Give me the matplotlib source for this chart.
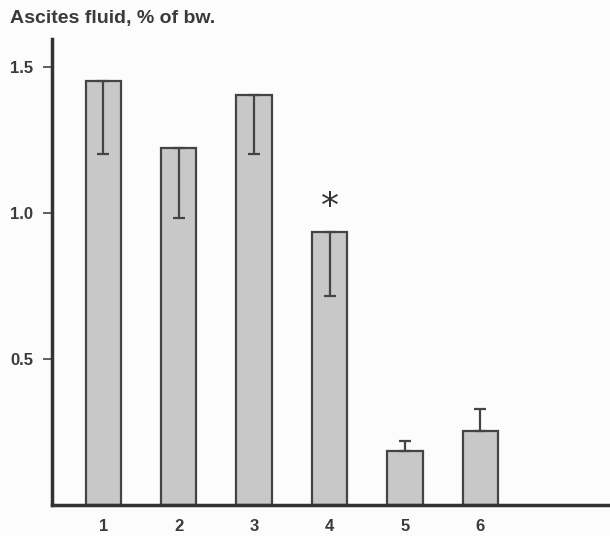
import matplotlib
matplotlib.use("Agg")
import matplotlib.pyplot as plt
import numpy as np

categories = ["1", "2", "3", "4", "5", "6"]
means = [1.453, 1.223, 1.404, 0.936, 0.186, 0.253]
err_lower = [0.251, 0.239, 0.202, 0.219, 0.0, 0.0]
err_upper = [0.0, 0.0, 0.0, 0.0, 0.034, 0.076]
yticks = [0.5, 1.0, 1.5]
ytick_labels = ["0.5", "1.0", "1.5"]
title = "Ascites fluid, % of bw."
star_bar = 3
star_y = 1.02

W, H = 610, 536
fig = plt.figure(figsize=(W/100, H/100), dpi=100)
fig.patch.set_facecolor("#fcfcfc")
ax = fig.add_axes([52/W, (H-505)/H, (W-52)/W + 0.01, (505-39)/H])
ax.set_facecolor("#fcfcfc")

x = np.arange(1, len(categories)+1)
ax.bar(x, means, width=0.47, color="#c8c8c8", edgecolor="#444444", linewidth=1.6, zorder=2)
ax.errorbar(x, means, yerr=[err_lower, err_upper], fmt="none", ecolor="#444444",
            elinewidth=1.6, capsize=4.5, capthick=1.6, zorder=3)
ax.text(x[star_bar], star_y, "*", ha="center", va="center", fontsize=26, color="#333333",
        family="DejaVu Sans")

ax.set_xlim(0.32, 7.8)
ax.set_ylim(0, 1.596)
for s in ["top", "right"]:
    ax.spines[s].set_visible(False)
for s in ["left", "bottom"]:
    ax.spines[s].set_linewidth(2.5)
    ax.spines[s].set_color("#333333")
ax.set_yticks(yticks)
ax.set_yticklabels(ytick_labels, fontsize=12, fontweight="bold", color="#3a3a3a",
                   family="Liberation Sans")
ax.tick_params(axis="y", length=6.5, width=1.2, color="#444444", pad=7)
ax.set_xticks(x)
ax.set_xticklabels(categories, fontsize=12, fontweight="bold", color="#3a3a3a",
                   family="Liberation Sans")
ax.tick_params(axis="x", length=0, pad=10)

fig.text(10/W, 1 - 18/H, title, ha="left", va="center", fontsize=14, fontweight="bold",
         color="#3a3a3a", family="Liberation Sans")

fig.savefig("out.png", dpi=100, facecolor=fig.get_facecolor())
